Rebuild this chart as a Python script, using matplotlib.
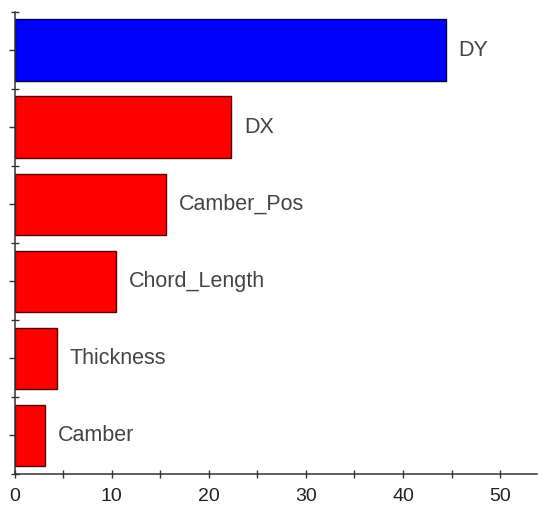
import numpy as np
import matplotlib
matplotlib.use("Agg")
import matplotlib.pyplot as plt
from matplotlib.ticker import MultipleLocator, FixedLocator, NullFormatter

# Data (bottom to top)
categories = ["Camber", "Thickness", "Chord_Length", "Camber_Pos", "DX", "DY"]
values = [3.1, 4.35, 10.4, 15.6, 22.3, 44.4]
bar_colors = ["#ff0000"] * 5 + ["#0000ff"]
edge_colors = ["#5a0000"] * 5 + ["#00004a"]

plt.rcParams["font.family"] = ["Liberation Sans", "DejaVu Sans"]

fig = plt.figure(figsize=(5.5, 5.16), dpi=100)
ax = fig.add_axes([14.5 / 550, 1 - 474 / 516, 522.5 / 550, (474 - 11.7) / 516])

y = np.arange(len(categories))
bars = ax.barh(y, values, height=0.8, color=bar_colors,
               edgecolor=edge_colors, linewidth=1.0)

# category labels to the right of each bar
for yi, v, name in zip(y, values, categories):
    ax.annotate(name, xy=(v, yi), xytext=(13, 0), textcoords="offset pixels",
                ha="left", va="center", fontsize=15.5, color="#444444")

ax.set_xlim(0, 53.8)
ax.set_ylim(-0.5, len(categories) - 0.5)

# axis styling
for side in ["top", "right"]:
    ax.spines[side].set_visible(False)
for side in ["left", "bottom"]:
    ax.spines[side].set_color("#333333")
    ax.spines[side].set_linewidth(1.1)

ax.xaxis.set_major_locator(MultipleLocator(10))
ax.xaxis.set_minor_locator(MultipleLocator(5))
ax.tick_params(axis="x", which="both", direction="inout", length=6,
               width=1, color="#333333", labelsize=14, labelcolor="#222222", pad=7)

ax.yaxis.set_major_locator(FixedLocator(np.arange(-0.5, len(categories), 1.0)))
ax.yaxis.set_minor_locator(FixedLocator(y))
ax.yaxis.set_major_formatter(NullFormatter())
ax.tick_params(axis="y", which="major", direction="inout", length=6,
               width=1, color="#333333")
ax.tick_params(axis="y", which="minor", direction="out", length=4,
               width=1, color="#333333")

fig.savefig("out.png", dpi=100, facecolor="white")
